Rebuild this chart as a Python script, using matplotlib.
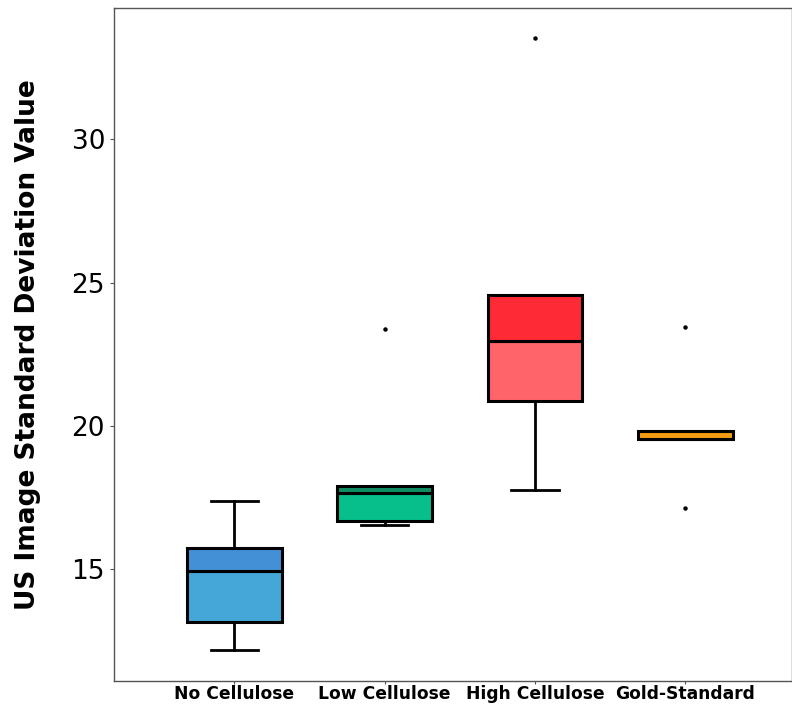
import matplotlib
matplotlib.use("Agg")
import matplotlib.pyplot as plt

# box stats
groups = ["No Cellulose", "Low Cellulose", "High Cellulose", "Gold-Standard"]
whislo = [12.17, 16.53, 17.76, 19.53]
q1 = [13.15, 16.67, 20.86, 19.53]
med = [14.93, 17.65, 22.95, 19.53]
q3 = [15.73, 17.90, 24.56, 19.81]
whishi = [17.37, 17.90, 24.56, 19.81]
fliers = [[], [23.37], [33.56], [23.44, 17.13]]

lower_colors = ["#44a7d8", "#06bf8a", "#fe646a", "#f39c12"]
upper_colors = ["#4390d6", "#0e8f63", "#fe2a36", "#f39c12"]

fig = plt.figure(figsize=(7.92, 7.06), dpi=100)
ax = fig.add_axes([0.144, 0.036, 0.856, 0.953])

xs = list(range(len(groups)))
width = 0.63

stats = []
for i in range(len(groups)):
    stats.append(dict(med=med[i], q1=q1[i], q3=q3[i], whislo=whislo[i],
                      whishi=whishi[i], fliers=fliers[i], label=groups[i]))

# two tone boxes
ax.bar(xs, [b - a for a, b in zip(q1, med)], bottom=q1, width=width,
       color=lower_colors, edgecolor="black", linewidth=2.2, zorder=2)
ax.bar(xs, [b - a for a, b in zip(med, q3)], bottom=med, width=width,
       color=upper_colors, edgecolor="black", linewidth=2.2, zorder=2)

ax.bxp(stats, positions=xs, widths=width, showbox=False,
       whiskerprops=dict(color="black", linewidth=2),
       capprops=dict(color="black", linewidth=2),
       medianprops=dict(color="black", linewidth=2),
       flierprops=dict(marker="o", markersize=2.2, markerfacecolor="black",
                       markeredgecolor="black"),
       capwidths=width / 2)

ax.set_xlim(-0.8, 3.71)
ax.set_ylim(11.1, 34.6)
ax.set_yticks([15, 20, 25, 30])
ax.tick_params(axis="y", labelsize=19, length=3, width=0.8, color="#555555")
ax.tick_params(axis="x", length=2, width=0.8, color="#555555", pad=1)
ax.set_xticks(xs)
ax.set_xticklabels(groups, fontsize=12.3, fontweight="bold")
ax.set_ylabel("US Image Standard Deviation Value", fontsize=19,
              fontweight="bold", labelpad=22)
for s in ax.spines.values():
    s.set_color("#555555")
    s.set_linewidth(1)

fig.savefig("out.png", dpi=100)
